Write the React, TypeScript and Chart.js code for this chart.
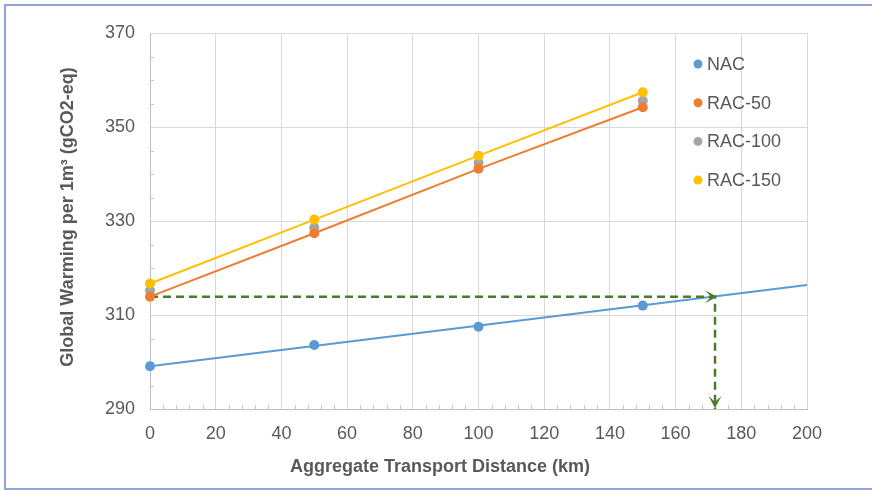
import React, { useEffect, useRef } from "react";
import { Chart, registerables } from "chart.js";

Chart.register(...registerables);

// ---- data ----
const DISTANCES = [0, 50, 100, 150];
const NAC = [299.1, 303.6, 307.5, 312.0];
const RAC_50 = [313.9, 327.4, 341.1, 354.2];
const RAC_100 = [315.2, 328.6, 342.4, 355.6];
const RAC_150 = [316.7, 330.3, 343.9, 357.4];
const NAC_TREND_X = [0, 200];
const NAC_TREND_Y = [299.1, 316.4];
const GUIDE_X = [0, 172, 172];
const GUIDE_Y = [313.9, 313.9, 290];
const X_MIN = 0;
const X_MAX = 200;
const X_STEP = 20;
const Y_MIN = 290;
const Y_MAX = 370;
const Y_STEP = 20;
const SERIES_NAMES = ["NAC", "RAC-50", "RAC-100", "RAC-150"];
const X_TITLE = "Aggregate Transport Distance (km)";
const Y_TITLE = "Global Warming per 1m³ (gCO2-eq)";

const COLORS = ["#5B9BD5", "#ED7D31", "#A5A5A5", "#FFC000"];
const GUIDE_COLOR = "#4E7A2B";
const TEXT = "#595959";
const FONT = "'Liberation Sans', Arial, sans-serif";

const pts = (xs: number[], ys: number[]) => xs.map((x, i) => ({ x, y: ys[i] }));

function arrow(ctx: CanvasRenderingContext2D, tx: number, ty: number, dx: number, dy: number) {
  const len = 12;
  const w = 6.5;
  const px = -dy;
  const py = dx;
  ctx.beginPath();
  ctx.moveTo(tx, ty);
  ctx.lineTo(tx - dx * len + px * w, ty - dy * len + py * w);
  ctx.lineTo(tx - dx * len * 0.5, ty - dy * len * 0.5);
  ctx.lineTo(tx - dx * len - px * w, ty - dy * len - py * w);
  ctx.closePath();
  ctx.fill();
}

const extras = {
  id: "extras",
  beforeDatasetsDraw(chart: any) {
    const { ctx, chartArea, scales } = chart;
    const x = scales.x;
    const y = scales.y;
    ctx.save();
    ctx.strokeStyle = "#C8C8C8";
    ctx.lineWidth = 1;
    ctx.beginPath();
    for (let v = X_MIN + 4; v < X_MAX; v += 4) {
      if (v % X_STEP === 0) continue;
      const p = Math.round(x.getPixelForValue(v)) + 0.5;
      ctx.moveTo(p, chartArea.bottom);
      ctx.lineTo(p, chartArea.bottom - 4);
    }
    for (let v = Y_MIN + 5; v < Y_MAX; v += 5) {
      if ((v - Y_MIN) % Y_STEP === 0) continue;
      const p = Math.round(y.getPixelForValue(v)) + 0.5;
      ctx.moveTo(chartArea.left, p);
      ctx.lineTo(chartArea.left + 4, p);
    }
    ctx.stroke();
    ctx.restore();
  },
  afterDatasetsDraw(chart: any) {
    const { ctx, scales } = chart;
    const x = scales.x;
    const y = scales.y;
    ctx.save();
    ctx.fillStyle = GUIDE_COLOR;
    arrow(ctx, x.getPixelForValue(GUIDE_X[1]) + 2, y.getPixelForValue(GUIDE_Y[1]), 1, 0);
    arrow(ctx, x.getPixelForValue(GUIDE_X[2]), y.getPixelForValue(GUIDE_Y[2]) - 1, 0, 1);
    ctx.restore();
  },
  afterDraw(chart: any) {
    const { ctx, chartArea } = chart;
    ctx.save();
    const lx = chartArea.right - 109;
    const ly = chartArea.top + 31;
    const gap = 38.7;
    ctx.font = `18px ${FONT}`;
    ctx.textBaseline = "middle";
    ctx.textAlign = "left";
    SERIES_NAMES.forEach((name, i) => {
      const cy = ly + i * gap;
      ctx.fillStyle = COLORS[i];
      ctx.beginPath();
      ctx.arc(lx, cy, 4.5, 0, Math.PI * 2);
      ctx.fill();
      ctx.fillStyle = TEXT;
      ctx.fillText(name, lx + 9, cy + 1);
    });
    ctx.font = `bold 18px ${FONT}`;
    ctx.fillStyle = TEXT;
    ctx.textAlign = "center";
    ctx.fillText(X_TITLE, 440, 467);
    ctx.translate(68, 217);
    ctx.rotate(-Math.PI / 2);
    ctx.fillText(Y_TITLE, 0, 0);
    ctx.restore();
  },
};

export default function App() {
  const ref = useRef<HTMLCanvasElement | null>(null);

  useEffect(() => {
    if (!ref.current) return;
    const chart = new Chart(ref.current, {
      type: "line",
      data: {
        datasets: [
          {
            label: "NAC trend",
            data: pts(NAC_TREND_X, NAC_TREND_Y),
            borderColor: COLORS[0],
            borderWidth: 2,
            pointRadius: 0,
            order: 10,
          },
          {
            label: SERIES_NAMES[0],
            data: pts(DISTANCES, NAC),
            borderColor: COLORS[0],
            backgroundColor: COLORS[0],
            showLine: false,
            pointRadius: 5,
            pointBorderWidth: 0,
            order: 9,
          },
          {
            label: "guide",
            data: pts(GUIDE_X, GUIDE_Y),
            borderColor: GUIDE_COLOR,
            borderWidth: 2.5,
            borderDash: [8, 5],
            pointRadius: 0,
            order: 8,
          },
          {
            label: SERIES_NAMES[1],
            data: pts(DISTANCES, RAC_50),
            borderColor: COLORS[1],
            backgroundColor: COLORS[1],
            borderWidth: 2,
            pointRadius: 5,
            pointBorderWidth: 0,
            order: 1,
          },
          {
            label: SERIES_NAMES[2],
            data: pts(DISTANCES, RAC_100),
            borderColor: COLORS[2],
            backgroundColor: COLORS[2],
            showLine: false,
            pointRadius: 5,
            pointBorderWidth: 0,
            order: 3,
          },
          {
            label: SERIES_NAMES[3],
            data: pts(DISTANCES, RAC_150),
            borderColor: COLORS[3],
            backgroundColor: COLORS[3],
            borderWidth: 2,
            pointRadius: 5,
            pointBorderWidth: 0,
            order: 2,
          },
        ],
      },
      options: {
        responsive: false,
        devicePixelRatio: 1,
        animation: false,
        clip: false as any,
        layout: { padding: { top: 33, right: 65, left: 0, bottom: 0 } },
        plugins: {
          legend: { display: false },
          tooltip: { enabled: false },
        },
        scales: {
          x: {
            type: "linear",
            min: X_MIN,
            max: X_MAX,
            ticks: {
              stepSize: X_STEP,
              color: TEXT,
              font: { family: FONT, size: 18 },
              padding: 14,
              maxRotation: 0,
            },
            grid: { color: "#D9D9D9", drawTicks: false },
            border: { color: "#BFBFBF" },
            afterFit: (s: any) => {
              s.height = 81;
            },
          },
          y: {
            type: "linear",
            min: Y_MIN,
            max: Y_MAX,
            ticks: {
              stepSize: Y_STEP,
              color: TEXT,
              font: { family: FONT, size: 18 },
              padding: 15,
            },
            grid: { color: "#D9D9D9", drawTicks: false },
            border: { color: "#BFBFBF" },
            afterFit: (s: any) => {
              s.width = 150;
            },
          },
        },
      },
      plugins: [extras],
    });
    return () => chart.destroy();
  }, []);

  return (
    <div
      style={{
        position: "absolute",
        left: 0,
        top: 0,
        width: 872,
        height: 490,
        overflow: "hidden",
        background: "#fff",
      }}
    >
      <canvas ref={ref} width={872} height={490} style={{ position: "absolute", left: 0, top: 0 }} />
      <div
        style={{
          position: "absolute",
          left: 4,
          top: 4,
          width: 900,
          height: 486,
          boxSizing: "border-box",
          border: "2px solid #8FA4D8",
          pointerEvents: "none",
        }}
      />
    </div>
  );
}
